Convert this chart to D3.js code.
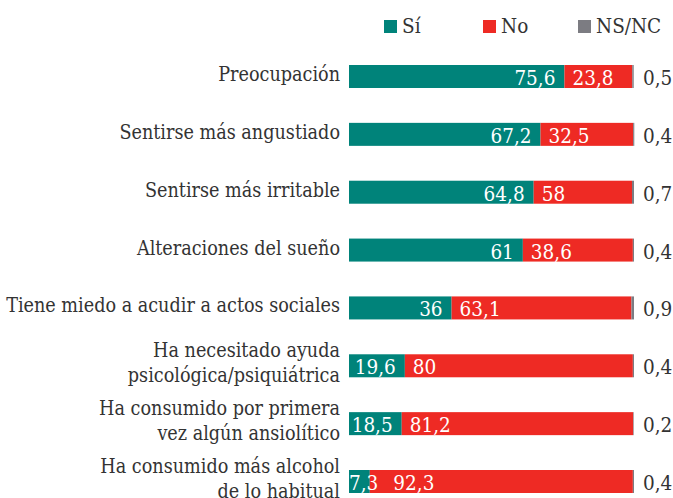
<!DOCTYPE html>
<html>
<head>
<meta charset="utf-8">
<script src="https://cdn.jsdelivr.net/npm/d3@7"></script>
<style>
  body { margin: 0; background: #fff; }
  svg { display: block; }
  text { font-family: "DejaVu Serif Condensed", "DejaVu Serif", serif; font-stretch: condensed; }
</style>
</head>
<body>
<svg id="chart" width="673" height="498"></svg>
<script>
// data
const categories = [
  'Preocupación',
  'Sentirse más angustiado',
  'Sentirse más irritable',
  'Alteraciones del sueño',
  'Tiene miedo a acudir a actos sociales',
  'Ha necesitado ayuda\npsicológica/psiquiátrica',
  'Ha consumido por primera\nvez algún ansiolítico',
  'Ha consumido más alcohol\nde lo habitual'
];
const si = [75.6, 67.2, 64.8, 61, 36, 19.6, 18.5, 7.3];
const no = [23.8, 32.5, 34.5, 38.6, 63.1, 80, 81.2, 92.3];
const nsnc = [0.5, 0.4, 0.7, 0.4, 0.9, 0.4, 0.2, 0.4];
// printed labels for "No" (the source prints 58 on the irritable bar)
const noPrinted = [23.8, 32.5, 58, 38.6, 63.1, 80, 81.2, 92.3];
const seriesNames = ['Sí', 'No', 'NS/NC'];

const colors = { 'Sí': '#00837a', 'No': '#ee2a24', 'NS/NC': '#7c7c82' };
const textColor = '#333';

const svg = d3.select('#chart');
const fmt = v => String(v).replace('.', ',');

const x = d3.scaleLinear().domain([0, 100]).range([349, 634]);
const y = d3.scaleBand().domain(categories).range([65, 493])
  .paddingInner(0.6025).paddingOuter(0);

const rows = categories.map((c, i) => ({ cat: c, si: si[i], no: no[i], nsnc: nsnc[i], noLabel: noPrinted[i] }));

// legend
const legendX = [384, 483, 578];
const legend = svg.append('g');
seriesNames.forEach((s, i) => {
  legend.append('rect')
    .attr('x', legendX[i]).attr('y', 20)
    .attr('width', 13).attr('height', 13)
    .attr('fill', colors[s]);
  legend.append('text')
    .attr('x', legendX[i] + 18).attr('y', 33)
    .attr('font-size', 20.5).attr('fill', textColor)
    .text(s);
});

// bars
const g = svg.append('g');
const row = g.selectAll('g.row').data(rows).join('g').attr('class', 'row');

row.append('rect')
  .attr('x', x(0)).attr('y', d => y(d.cat))
  .attr('width', d => x(d.si) - x(0)).attr('height', y.bandwidth())
  .attr('fill', colors['Sí']);
row.append('rect')
  .attr('x', d => x(d.si)).attr('y', d => y(d.cat))
  .attr('width', d => x(d.si + d.no) - x(d.si)).attr('height', y.bandwidth())
  .attr('fill', colors['No']);
row.append('rect')
  .attr('x', d => x(d.si + d.no)).attr('y', d => y(d.cat))
  .attr('width', d => x(d.si + d.no + d.nsnc) - x(d.si + d.no)).attr('height', y.bandwidth())
  .attr('fill', colors['NS/NC']);

// value labels
row.each(function(d) {
  const r = d3.select(this);
  const base = y(d.cat) + y.bandwidth() / 2 + 8.5;
  const siText = r.append('text')
    .attr('y', base).attr('font-size', 20.5).attr('fill', '#fff')
    .attr('text-anchor', 'end')
    .text(fmt(d.si));
  const w = siText.node().getComputedTextLength();
  const siEnd = Math.max(x(d.si) - 9, x(0) + w);
  siText.attr('x', siEnd);

  r.append('text')
    .attr('x', Math.max(x(d.si) + 8, siEnd + 15)).attr('y', base)
    .attr('font-size', 20.5).attr('fill', '#fff')
    .text(fmt(d.noLabel));

  r.append('text')
    .attr('x', 643).attr('y', base)
    .attr('font-size', 20.5).attr('fill', textColor)
    .text(fmt(d.nsnc));
});

// category labels
row.append('text')
  .attr('text-anchor', 'end')
  .attr('font-size', 19.6).attr('fill', textColor)
  .each(function(d) {
    const lines = d.cat.split('\n');
    const c = y(d.cat) + y.bandwidth() / 2;
    lines.forEach((l, i) => {
      d3.select(this).append('tspan')
        .attr('x', 340)
        .attr('y', c + 4.5 + (i - (lines.length - 1) / 2) * 25 - (lines.length > 1 ? 0.5 : 0))
        .text(l);
    });
  });
</script>
</body>
</html>
